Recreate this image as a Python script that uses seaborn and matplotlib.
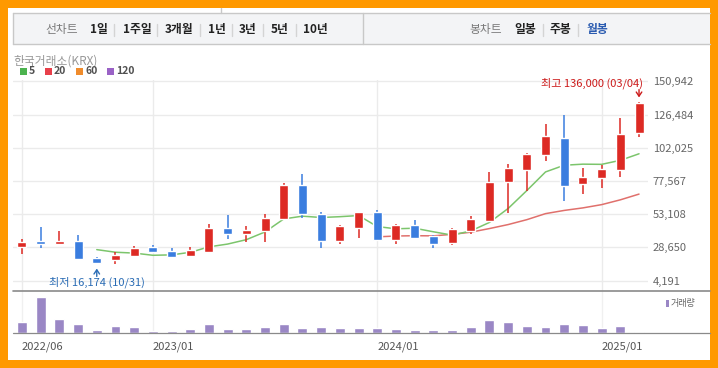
import matplotlib
matplotlib.use("Agg")
import matplotlib.pyplot as plt
from matplotlib.patches import Rectangle
from matplotlib.lines import Line2D
import seaborn as sns
import numpy as np
import pandas as pd

# monthly candles, 2022/06 .. 2025/03
months = [str(p).replace('-', '/') for p in pd.period_range('2022-06', '2025-03', freq='M')]
opens = [29200, 33400, 31400, 33400, 20700, 19200, 22600, 29000, 25800, 22400, 25500, 43200,
         38800, 40800, 49600, 74600, 53300, 33600, 43200, 54500, 34400, 45200, 37300, 32200,
         40800, 48100, 77100, 85900, 96900, 109200, 75600, 79600, 85900, 113100]
highs = [34900, 43900, 40800, 37800, 21400, 25500, 29700, 30500, 28000, 29000, 45900, 52800,
         44500, 53100, 75900, 82700, 54800, 45200, 54800, 56200, 45900, 48900, 37800, 43000,
         51800, 84200, 90100, 98000, 119500, 126100, 87100, 89300, 123900, 136000]
lows = [24100, 28500, 31000, 19200, 16174, 16700, 21400, 24400, 21500, 21900, 24800, 35100,
        32500, 32700, 48900, 50100, 28500, 31400, 35800, 33600, 31400, 35100, 28500, 30700,
        38800, 47500, 54200, 70000, 92500, 63100, 68200, 72600, 80700, 110200]
closes = [32700, 31400, 33400, 20400, 17400, 23100, 28300, 25300, 21900, 26800, 43200, 38600,
          41500, 50300, 74600, 53500, 33600, 44500, 54500, 34100, 45200, 35800, 31400, 42200,
          49400, 76600, 87100, 97400, 110700, 74100, 80500, 86400, 112200, 134800]
ma5 = [np.nan] * 4 + [27060, 25140, 24520, 22900, 23200, 25080, 29100, 31160, 34400, 40080,
                      49640, 51700, 50700, 51300, 52140, 44040, 42380, 42820, 40200, 37740,
                      40800, 47080, 57340, 70540, 84240, 89180, 89960, 89820, 92780, 97600]
ma20 = [np.nan] * 19 + [36455, 37080, 37300, 37200, 38290, 39890, 42565, 45505, 49110,
                        53550, 55915, 57780, 60170, 63705, 67930]
volume = [32, 108, 41, 27, 8, 21, 17, 5, 5, 11, 27, 11, 11, 17, 27, 14, 17,
          14, 14, 14, 11, 8, 8, 8, 17, 38, 32, 20, 17, 26, 23, 14, 20, 2]

price_ticks = [4191, 28650, 53108, 77567, 102025, 126484, 150942]
date_ticks = ['2022/06', '2023/01', '2024/01', '2025/01']

df = pd.DataFrame({'month': months, 'open': opens, 'high': highs, 'low': lows,
                   'close': closes, 'ma5': ma5, 'ma20': ma20, 'volume': volume})
df['pos'] = np.arange(len(df))
tick_pos = [months.index(m) for m in date_ticks]

sns.set_style('white')
plt.rcParams['font.family'] = ['Noto Sans CJK KR', 'DejaVu Sans']

UP, DOWN = '#dd2a24', '#3a7ddf'
W, H = 718, 368


def fx(x):
    return x / W


def fy(y):
    return 1 - y / H


fig = plt.figure(figsize=(7.18, 3.68), dpi=100, facecolor='#ff9900')
fig.add_artist(Rectangle((fx(8), fy(360)), fx(710) - fx(8), fy(8) - fy(360),
                         transform=fig.transFigure, facecolor='white', edgecolor='none', zorder=-5))

# toolbar
fig.add_artist(Rectangle((fx(13), fy(44)), fx(710) - fx(13), fy(13) - fy(44),
                         transform=fig.transFigure, facecolor='#f3f4f6', edgecolor='none', zorder=-4))
for y in [13, 44]:
    fig.add_artist(Line2D([fx(13), fx(710)], [fy(y), fy(y)], color='#c8c8c8', lw=1))
for x in [13, 363]:
    fig.add_artist(Line2D([fx(x), fx(x)], [fy(13), fy(44)], color='#c8c8c8', lw=1))
fig.add_artist(Line2D([fx(221), fx(221)], [fy(8), fy(13)], color='#c8c8c8', lw=1))

tool_items = [(62, '선차트', '#7a7a7a', 'normal'), (99, '1일', '#222222', 'bold'),
              (137, '1주일', '#222222', 'bold'), (179, '3개월', '#222222', 'bold'),
              (217, '1년', '#222222', 'bold'), (248, '3년', '#222222', 'bold'),
              (280, '5년', '#222222', 'bold'), (315, '10년', '#222222', 'bold'),
              (486, '봉차트', '#7a7a7a', 'normal'), (525, '일봉', '#222222', 'bold'),
              (560, '주봉', '#222222', 'bold'), (597, '월봉', '#2a5bb0', 'bold')]
for x, t, c, w in tool_items:
    fig.text(fx(x), fy(30), t, ha='center', va='center', fontsize=8.5, color=c, weight=w)
for x in [114, 157, 200, 232, 263, 296, 543, 578]:
    fig.add_artist(Line2D([fx(x), fx(x)], [fy(24), fy(36)], color='#d4d4d4', lw=1))

fig.text(fx(13), fy(61), '한국거래소(KRX)', ha='left', va='center', fontsize=8.5, color='#999999')
legend_items = [(20, '#4cb34f', '5'), (45, '#e8404a', '20'), (76, '#f08c2c', '60'),
                (107, '#9a62c6', '120')]
for x, c, t in legend_items:
    fig.add_artist(Rectangle((fx(x), fy(75)), fx(7), fy(68) - fy(75),
                             transform=fig.transFigure, facecolor=c, edgecolor='none'))
    fig.text(fx(x + 9), fy(71.5), t, ha='left', va='center', fontsize=7.5,
             color='#505050', weight='bold')

# price panel
ax = fig.add_axes([fx(13), fy(290.7), fx(648) - fx(13), fy(80) - fy(290.7)])
ax.set_facecolor('none')
up = df['close'] >= df['open']
colors = np.where(up, UP, DOWN)
ax.vlines(df['pos'], df['low'], df['high'], colors=colors, lw=1.1, zorder=3)
ax.bar(df['pos'], (df['close'] - df['open']).abs(), bottom=df[['open', 'close']].min(axis=1),
       width=0.48, color=colors, zorder=3)
sns.lineplot(data=df, x='pos', y='ma20', ax=ax, color='#e0706c', lw=1.1, zorder=2)
sns.lineplot(data=df, x='pos', y='ma5', ax=ax, color='#7cc56c', lw=1.1, zorder=2)

ax.set_xlim(-0.48, 33.48)
ax.set_ylim(-3169, 151900)
ax.set_yticks(price_ticks, labels=[f'{v:,}' for v in price_ticks])
ax.yaxis.tick_right()
ax.set_xticks(tick_pos, labels=[''] * len(tick_pos))
ax.tick_params(axis='both', length=0)
ax.tick_params(axis='y', labelsize=8, colors='#666666', pad=3.5)
ax.grid(True, color='#ebebeb', lw=1)
ax.set_axisbelow(True)
ax.set_xlabel('')
ax.set_ylabel('')
for s in ax.spines.values():
    s.set_visible(False)

lo_i = int(np.argmin(lows))
hi_i = int(np.argmax(highs))
ax.annotate(f'최저 {lows[lo_i]:,} (10/31)', xy=(lo_i, lows[lo_i]), xytext=(0, -18),
            textcoords='offset pixels', ha='center', va='center', fontsize=8, color='#2a6cb5')
ax.annotate('', xy=(lo_i, lows[lo_i]), xytext=(0, -12), textcoords='offset pixels',
            arrowprops=dict(arrowstyle='->,head_length=0.3,head_width=0.2', color='#2a6cb5',
                            lw=1, shrinkA=0, shrinkB=3))
ax.annotate(f'최고 {highs[hi_i]:,} (03/04)', xy=(hi_i, highs[hi_i]), xytext=(4, 18),
            textcoords='offset pixels', ha='right', va='center', fontsize=8, color='#cc1a1a')
ax.annotate('', xy=(hi_i, highs[hi_i]), xytext=(0, 12), textcoords='offset pixels',
            arrowprops=dict(arrowstyle='->,head_length=0.3,head_width=0.2', color='#cc1a1a',
                            lw=1, shrinkA=0, shrinkB=3))

# volume panel
axv = fig.add_axes([fx(13), fy(332.5), fx(648) - fx(13), fy(290.7) - fy(332.5)])
axv.set_facecolor('none')
sns.barplot(x=df['pos'], y=df['volume'], ax=axv, color='#9a87c5', width=0.53,
            saturation=1, native_scale=True, zorder=3)
axv.set_xlim(-0.48, 33.48)
axv.set_ylim(0, 127)
axv.set_yticks([])
axv.set_xticks(tick_pos, labels=date_ticks)
for lab in axv.get_xticklabels():
    lab.set_ha('left')
axv.tick_params(axis='x', length=4.5, width=1, color='#aaaaaa', labelsize=8,
                labelcolor='#555555', pad=2, direction='out')
axv.grid(True, axis='x', color='#f0f0f0', lw=1)
axv.set_axisbelow(True)
axv.set_xlabel('')
axv.set_ylabel('')
for s in axv.spines.values():
    s.set_visible(False)

fig.add_artist(Rectangle((fx(666), fy(307)), fx(2.5), fy(300) - fy(307),
                         transform=fig.transFigure, facecolor='#9a87c5', edgecolor='none'))
fig.text(fx(671), fy(303.5), '거래량', ha='left', va='center', fontsize=6.5, color='#666666')

fig.add_artist(Line2D([fx(13), fx(710)], [fy(290.7), fy(290.7)], color='#8a8a8a', lw=1.2))
fig.add_artist(Line2D([fx(13), fx(710)], [fy(333.2), fy(333.2)], color='#8a8a8a', lw=0.9))

fig.savefig('out.png', dpi=100, facecolor=fig.get_facecolor())
